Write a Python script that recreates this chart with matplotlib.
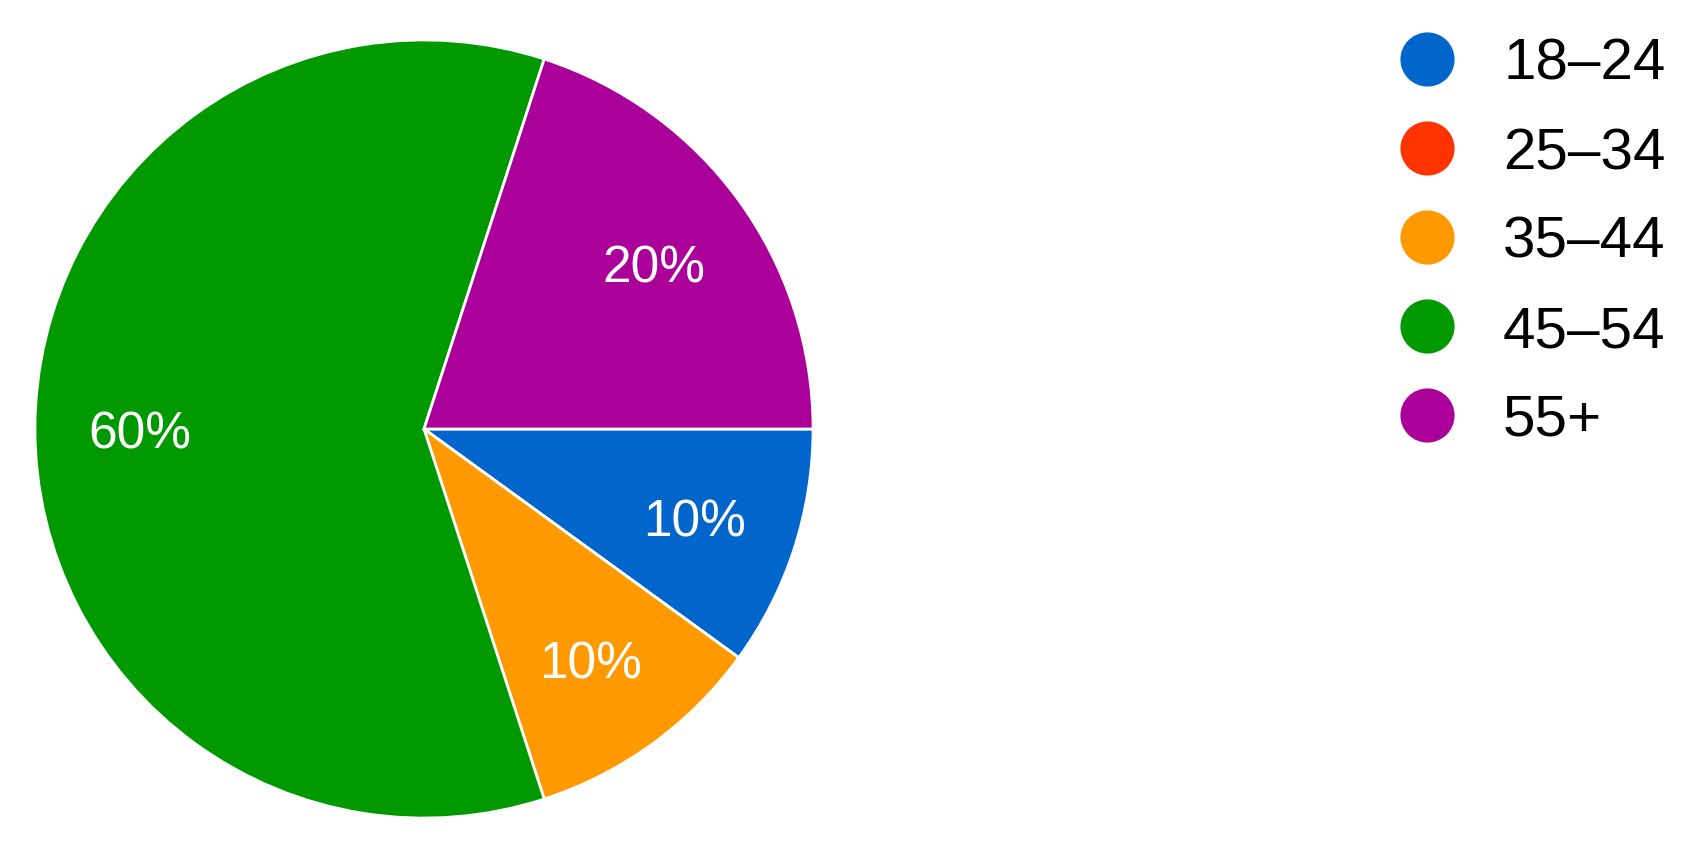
import matplotlib.pyplot as plt
from matplotlib.lines import Line2D

plt.rcParams['font.family'] = ['Liberation Sans', 'DejaVu Sans']

# Age group distribution
groups = ['18–24', '25–34', '35–44', '45–54', '55+']
shares = [10, 0, 10, 60, 20]
colors = ['#0066CC', '#FF3300', '#FF9900', '#009900', '#AA0099']

W, H = 1697, 862
fig = plt.figure(figsize=(W / 100, H / 100), dpi=100)

# pie centre (424, 430) px, radius 391 px
cx, cy, r = 424, 430, 391
ax = fig.add_axes([(cx - r) / W, (H - cy - r) / H, 2 * r / W, 2 * r / H])

wedges, texts, autotexts = ax.pie(
    shares, colors=colors, startangle=0, counterclock=False,
    autopct=lambda p: f'{p:.0f}%' if p >= 1 else '',
    pctdistance=0.73,
    wedgeprops=dict(edgecolor='white', linewidth=2),
    textprops=dict(color='white', fontsize=37))
for t in autotexts:
    t.set_va('center_baseline')
ax.set_xlim(-1.005, 1.005)
ax.set_ylim(-1.005, 1.005)
ax.set_aspect('equal')

handles = [Line2D([], [], linestyle='none', marker='o', markersize=38,
                  markerfacecolor=c, markeredgecolor=c) for c in colors]
fig.legend(handles, groups, loc='upper left', bbox_to_anchor=(1398 / W, 1 - 38 / H),
           frameon=False, fontsize=42, handletextpad=0.8, labelspacing=0.6,
           handlelength=1.0, borderaxespad=0, borderpad=0)

fig.savefig('out.png', dpi=100)
